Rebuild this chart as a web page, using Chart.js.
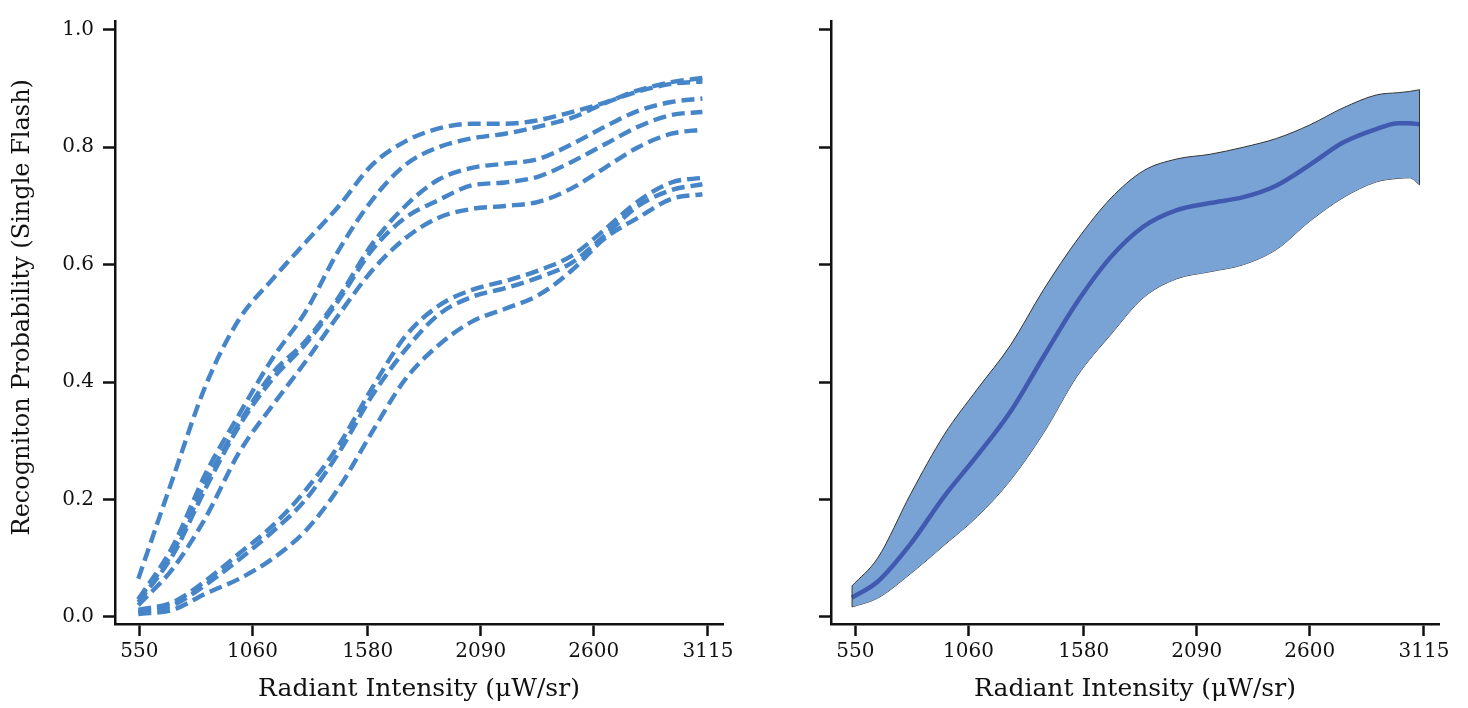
<!DOCTYPE html>
<html>
<head>
<meta charset="utf-8">
<script src="https://cdn.jsdelivr.net/npm/chart.js@4.4.0/dist/chart.umd.min.js"></script>
<style>
  html, body { margin: 0; padding: 0; background: #fff; }
  #wrap { position: relative; width: 1468px; height: 708px; }
  #left { position: absolute; left: 0; top: 0; }
  #right { position: absolute; left: 745px; top: 0; }
</style>
</head>
<body>
<div id="wrap">
  <canvas id="left" width="745" height="708"></canvas>
  <canvas id="right" width="723" height="708"></canvas>
</div>
<script>
// tick labels
const xTicks = [550, 1060, 1580, 2090, 2600, 3115];
const yTicks = [0, 0.2, 0.4, 0.6, 0.8, 1.0];

// left panel: individual runs (dashed)
const xLeft = [545, 700, 850, 1000, 1150, 1300, 1450, 1600, 1750, 1900, 2050, 2200, 2350, 2500, 2650, 2800, 2950, 3090];
const run1 = [0.065, 0.235, 0.395, 0.507, 0.575, 0.638, 0.70, 0.77, 0.81, 0.832, 0.84, 0.84, 0.846, 0.86, 0.876, 0.897, 0.911, 0.918];
const run2 = [0.03, 0.12, 0.245, 0.345, 0.44, 0.52, 0.625, 0.71, 0.77, 0.80, 0.815, 0.823, 0.835, 0.85, 0.875, 0.895, 0.908, 0.912];
const run3 = [0.03, 0.11, 0.23, 0.33, 0.415, 0.47, 0.545, 0.635, 0.70, 0.745, 0.765, 0.772, 0.78, 0.805, 0.835, 0.862, 0.877, 0.883];
const run4 = [0.025, 0.105, 0.22, 0.325, 0.405, 0.465, 0.54, 0.625, 0.68, 0.71, 0.735, 0.74, 0.75, 0.775, 0.805, 0.835, 0.855, 0.86];
const run5 = [0.02, 0.082, 0.17, 0.28, 0.36, 0.435, 0.515, 0.59, 0.645, 0.68, 0.695, 0.70, 0.707, 0.73, 0.765, 0.80, 0.823, 0.83];
const run6 = [0.012, 0.025, 0.062, 0.108, 0.155, 0.216, 0.293, 0.39, 0.478, 0.53, 0.557, 0.572, 0.59, 0.615, 0.66, 0.708, 0.74, 0.748];
const run7 = [0.008, 0.02, 0.055, 0.098, 0.145, 0.20, 0.28, 0.377, 0.455, 0.515, 0.545, 0.56, 0.578, 0.603, 0.65, 0.70, 0.727, 0.737];
const run8 = [0.005, 0.012, 0.04, 0.065, 0.099, 0.147, 0.22, 0.315, 0.405, 0.463, 0.503, 0.525, 0.548, 0.59, 0.645, 0.68, 0.712, 0.72];
const runs = [run1, run2, run3, run4, run5, run6, run7, run8];

// right panel: mean with band
const xRight = [535, 650, 800, 950, 1100, 1250, 1400, 1550, 1700, 1850, 2000, 2150, 2300, 2450, 2600, 2750, 2900, 3000, 3050, 3095];
const bandUpper = [0.053, 0.10, 0.21, 0.31, 0.388, 0.463, 0.558, 0.642, 0.712, 0.76, 0.78, 0.788, 0.80, 0.815, 0.838, 0.867, 0.889, 0.893, 0.895, 0.898];
const bandMean = [0.033, 0.06, 0.125, 0.205, 0.275, 0.35, 0.444, 0.536, 0.612, 0.665, 0.693, 0.705, 0.715, 0.735, 0.77, 0.808, 0.831, 0.841, 0.841, 0.839];
const bandLower = [0.017, 0.032, 0.074, 0.122, 0.171, 0.233, 0.314, 0.41, 0.48, 0.544, 0.576, 0.588, 0.60, 0.626, 0.674, 0.714, 0.741, 0.747, 0.748, 0.736];

const ink = '#111';
const serif = 'DejaVu Serif';

function pts(xs, ys) {
  return xs.map((x, i) => ({x: x, y: ys[i]}));
}

function makeScales(showY, yWidth) {
  return {
    x: {
      type: 'linear', min: 440, max: 3183,
      afterBuildTicks: s => { s.ticks = xTicks.map(v => ({value: v})); },
      border: {color: ink, width: 2.5},
      grid: {drawOnChartArea: false, drawTicks: true, tickLength: 12, tickWidth: 2.5, color: ink},
      ticks: {color: ink, font: {family: serif, size: 20}, padding: 4, maxRotation: 0, autoSkip: false,
              callback: v => String(v)},
      title: {display: true, text: 'Radiant Intensity (μW/sr)', color: ink,
              font: {family: serif, size: 25}, padding: {top: 0, bottom: 4}},
      afterFit: s => { s.height = 84; }
    },
    y: {
      type: 'linear', min: -0.012, max: 1.015,
      afterBuildTicks: s => { s.ticks = yTicks.map(v => ({value: v})); },
      border: {color: ink, width: 2.5},
      grid: {drawOnChartArea: false, drawTicks: true, tickLength: 12, tickWidth: 2.5, color: ink},
      ticks: {color: ink, font: {family: serif, size: 20}, padding: 9,
              callback: v => showY ? v.toFixed(1) : ''},
      title: {display: showY, text: '    Recogniton Probability (Single Flash)', color: ink,
              font: {family: serif, size: 24}, padding: {top: 8, bottom: 0}},
      afterFit: s => { s.width = yWidth; }
    }
  };
}

new Chart(document.getElementById('left'), {
  type: 'line',
  data: {
    datasets: runs.map(r => ({
      data: pts(xLeft, r),
      borderColor: '#4585c8',
      borderWidth: 4.4,
      borderDash: [13, 6],
      pointRadius: 0,
      cubicInterpolationMode: 'monotone',
      fill: false
    }))
  },
  options: {
    responsive: false,
    animation: false,
    layout: {padding: {top: 10, right: 22, left: 0, bottom: 0}},
    plugins: {legend: {display: false}, tooltip: {enabled: false}},
    scales: makeScales(true, 115)
  }
});

const bandEdges = {
  id: 'bandEdges',
  afterDatasetsDraw(chart) {
    const up = chart.getDatasetMeta(1).data;
    const lo = chart.getDatasetMeta(2).data;
    const ctx = chart.ctx;
    ctx.save();
    ctx.strokeStyle = '#333';
    ctx.lineWidth = 1;
    [0, up.length - 1].forEach(i => {
      ctx.beginPath();
      ctx.moveTo(up[i].x, up[i].y);
      ctx.lineTo(lo[i].x, lo[i].y);
      ctx.stroke();
    });
    ctx.restore();
  }
};

new Chart(document.getElementById('right'), {
  type: 'line',
  data: {
    datasets: [
      {data: pts(xRight, bandMean), borderColor: '#3f5aaf', borderWidth: 4.5, pointRadius: 0,
       cubicInterpolationMode: 'monotone', fill: false, order: 0},
      {data: pts(xRight, bandUpper), borderColor: '#333', borderWidth: 1, pointRadius: 0,
       cubicInterpolationMode: 'monotone', backgroundColor: '#7aa3d5', fill: '+1', order: 1},
      {data: pts(xRight, bandLower), borderColor: '#333', borderWidth: 1, pointRadius: 0,
       cubicInterpolationMode: 'monotone', fill: false, order: 2}
    ]
  },
  options: {
    responsive: false,
    animation: false,
    layout: {padding: {top: 10, right: 29, left: 0, bottom: 0}},
    plugins: {legend: {display: false}, tooltip: {enabled: false}},
    scales: makeScales(false, 86)
  },
  plugins: [bandEdges]
});
</script>
</body>
</html>
